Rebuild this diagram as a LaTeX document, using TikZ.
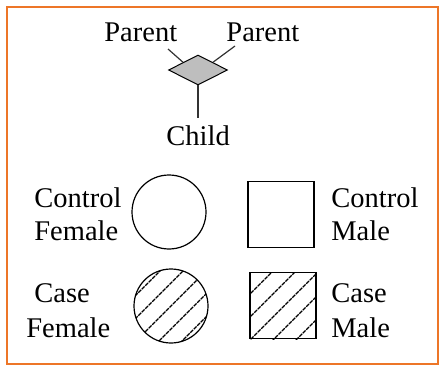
\documentclass[tikz,border=0pt]{standalone}
\usepackage{fontspec}
\setmainfont{Liberation Serif}
\usetikzlibrary{shapes.geometric}
\definecolor{frameorange}{RGB}{237,118,40}
\definecolor{marrgray}{RGB}{190,190,190}
\tikzset{
	lbl/.style={anchor=base west,inner sep=0pt,font=\fontsize{14.25}{17}\selectfont},
	hatch/.style={line width=0.55pt,dash pattern=on 2pt off 0.45pt},
	sym/.style={draw,line width=0.6pt,inner sep=0pt}
}
\begin{document}
\begin{tikzpicture}[x=0.5pt,y=-0.5pt]
		\useasboundingbox (0,0) rectangle (444,369);
		\draw[frameorange,line width=1.1pt] (7,7) rectangle (438,364);
		% mating node
		\node[sym,diamond,aspect=2,fill=marrgray,line width=0.5pt,minimum width=29.5pt,minimum height=15pt] (M) at (198,70) {};
		\node[lbl] (P1) at (104,42) {Parent};
		\node[lbl] (P2) at (226,42) {Parent};
		\node[lbl] (C) at (166,145) {Child};
		\coordinate (P1e) at (168,49);
		\coordinate (P2e) at (235,46);
		\coordinate (Ce) at (198,118);
		\draw[line width=0.6pt,black!80] (P1e) to (M.north west);
		\draw[line width=0.6pt,black!80] (P2e) to (M.north east);
		\draw[line width=0.6pt,black!80] (M.south) to (Ce);
		% legend
		\node[sym,circle,minimum size=37pt] (CF) at (169,212) {};
		\node[sym,rectangle,minimum size=33pt] (CM) at (281,214.5) {};
		\node[sym,circle,minimum size=37pt] (KF) at (171,306) {};
		\node[sym,rectangle,minimum size=33pt] (KM) at (283,305.5) {};
		\begin{scope}
			\clip (171,306) circle[radius=37];
			\foreach \d in {-46,-23,0,23,46}
				\draw[hatch] (121,306+50+\d) to (221,306-50+\d);
		\end{scope}
		\begin{scope}
			\clip (250,272) rectangle (316,339);
			\foreach \s in {544,567,590,613,636}
				\draw[hatch] (230,\s-230) to (340,\s-340);
		\end{scope}
		\node[lbl] (CFa) at (34,207) {Control};
		\node[lbl] (CFb) at (34,240) {Female};
		\node[lbl] (KFa) at (34,302) {Case};
		\node[lbl] (KFb) at (26,337) {Female};
		\node[lbl] (CMa) at (331,207) {Control};
		\node[lbl] (CMb) at (331,240) {Male};
		\node[lbl] (KMa) at (331,302) {Case};
		\node[lbl] (KMb) at (331,337) {Male};
	\end{tikzpicture}
\end{document}
